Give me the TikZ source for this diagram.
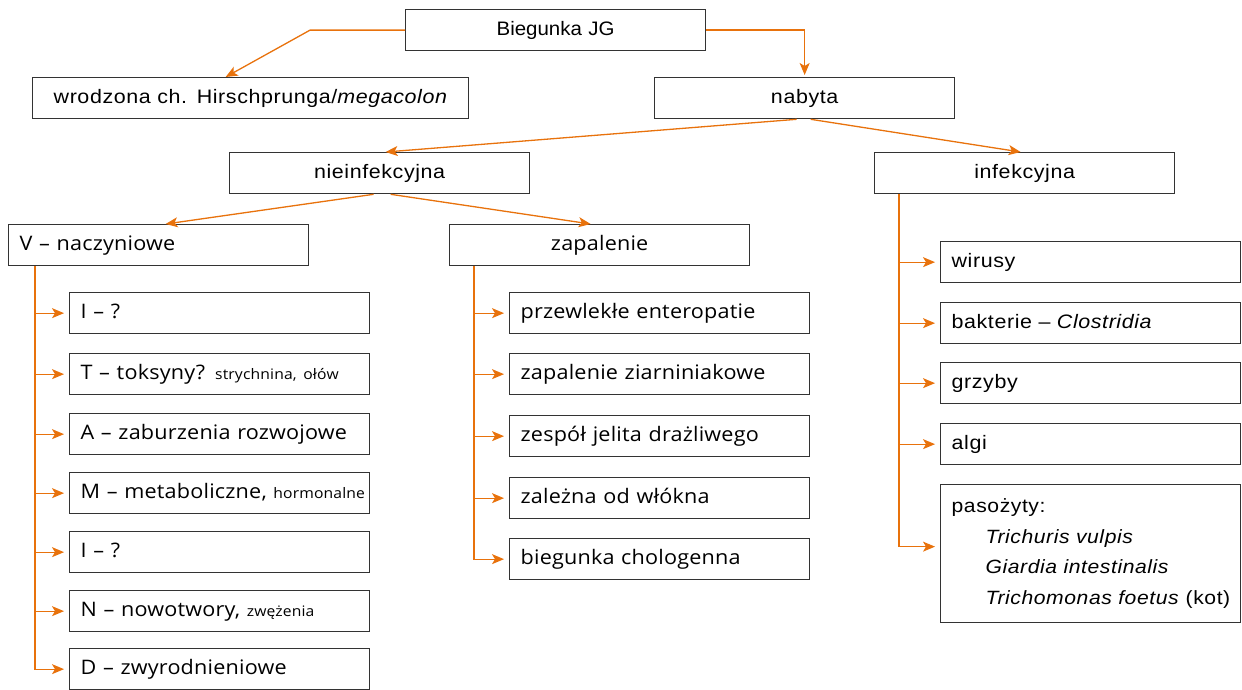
\documentclass[tikz,border=0pt]{standalone}
\usepackage{fontspec}
\setmainfont[FakeStretch=1.1,LetterSpace=3]{Liberation Sans}
\newfontfamily\topfont[FakeStretch=1.05]{Liberation Sans}
\newfontfamily\wide[FakeStretch=1.08,LetterSpace=1]{Open Sans}
\usetikzlibrary{arrows.meta,calc}
\definecolor{org}{RGB}{232,114,12}
\definecolor{edge}{RGB}{51,51,51}
\begin{document}
\begin{tikzpicture}[x=1pt,y=-1pt,
  frame/.style={draw=edge, line width=1.3pt, minimum height=41pt, inner sep=0pt, anchor=north west},
  box/.style={frame, text height=15pt, text depth=4pt},
  cbox/.style={box, align=center, text width=300pt, minimum width=300pt},
  lbox/.style={box, align=left, text width=278pt, inner xsep=11pt},
  arr/.style={draw=org, line width=1.3pt, -{Stealth[length=12pt,width=10pt,inset=3pt]}},
  side/.style={arr, line width=1.1pt, shorten >=5pt},
  nf/.style={font=\fontsize{19.5}{23}\selectfont},
  wf/.style={font=\wide\fontsize{20}{23}\selectfont}]
\useasboundingbox (0,0) rectangle (1242,690);
\newcommand\smalltxt[1]{{\fontsize{14.5}{15}\selectfont #1}}
% top level
\node[cbox,font=\topfont\fontsize{19.5}{23}\selectfont] (bieg) at (405,9) {Biegunka JG};
\node[cbox,nf,text width=436pt,minimum width=436pt] (wro) at (32,77) {wrodzona ch. Hirschprunga/\textit{megacolon}};
\node[cbox,nf] (nab) at (654,77) {nabyta};
\node[cbox,nf] (nie) at (229,152) {nieinfekcyjna};
\node[cbox,nf] (inf) at (874,152) {infekcyjna};
\node[lbox,wf] (vn) at (8,224) {V – naczyniowe};
\node[cbox,wf] (zap) at (449,224) {zapalenie};
% left column
\node[lbox,wf] (l1) at (69,292) {I – ?};
\node[lbox,wf] (l2) at (69,353) {\mbox{T – toksyny? \smalltxt{strychnina, ołów}}};
\node[lbox,wf] (l3) at (69,413) {A – zaburzenia rozwojowe};
\node[lbox,wf] (l4) at (69,472) {\mbox{M – metaboliczne, \smalltxt{hormonalne}}};
\node[lbox,wf] (l5) at (69,531) {I – ?};
\node[lbox,wf] (l6) at (69,590) {\mbox{N – nowotwory, \smalltxt{zwężenia}}};
\node[lbox,wf] (l7) at (69,648) {D – zwyrodnieniowe};
% middle column
\node[lbox,wf] (m1) at (509,292) {przewlekłe enteropatie};
\node[lbox,wf] (m2) at (509,353) {zapalenie ziarniniakowe};
\node[lbox,wf] (m3) at (509,415) {zespół jelita drażliwego};
\node[lbox,wf] (m4) at (509,477) {zależna od włókna};
\node[lbox,wf] (m5) at (509,538) {biegunka chologenna};
% right column
\node[lbox,nf] (r1) at (940,241) {wirusy};
\node[lbox,nf] (r2) at (940,302) {bakterie – \textit{Clostridia}};
\node[lbox,nf] (r3) at (940,362) {grzyby};
\node[lbox,nf] (r4) at (940,423) {algi};
\node[frame,align=left,text width=278pt,inner xsep=11pt,font=\fontsize{19.2}{30.5}\selectfont,minimum height=138pt] (r5) at (940,484)
  {pasożyty:\\\hspace*{34pt}\mbox{\textit{Trichuris vulpis}}\\\hspace*{34pt}\mbox{\textit{Giardia intestinalis}}\\\hspace*{34pt}\mbox{\textit{Trichomonas foetus} (kot)}};
% connectors
\draw[arr] (bieg.west) -- ++(-95,0) -- ([xshift=-25pt]wro.north);
\draw[arr,shorten >=2pt] (bieg.east) -| (nab.north);
\draw[arr] ([xshift=-8pt]nab.south) -- ([xshift=6pt]nie.north);
\draw[arr] ([xshift=6pt]nab.south) -- ([xshift=-4pt]inf.north);
\draw[arr] ([xshift=-6pt]nie.south) -- ([xshift=7pt]vn.north);
\draw[arr] ([xshift=11pt]nie.south) -- ([xshift=-9pt]zap.north);
\coordinate (vt) at ([xshift=27pt]vn.south west);
\coordinate (zt) at ([xshift=25pt]zap.south west);
\coordinate (it) at ([xshift=25pt]inf.south west);
\foreach \c in {l1,l2,l3,l4,l5,l6,l7} \draw[side] (vt) |- (\c.west);
\foreach \c in {m1,m2,m3,m4,m5} \draw[side] (zt) |- (\c.west);
\foreach \c in {r1,r2,r3,r4} \draw[side] (it) |- (\c.west);
\draw[side] (it) |- ([yshift=7pt]r5.west);
\end{tikzpicture}
\end{document}
